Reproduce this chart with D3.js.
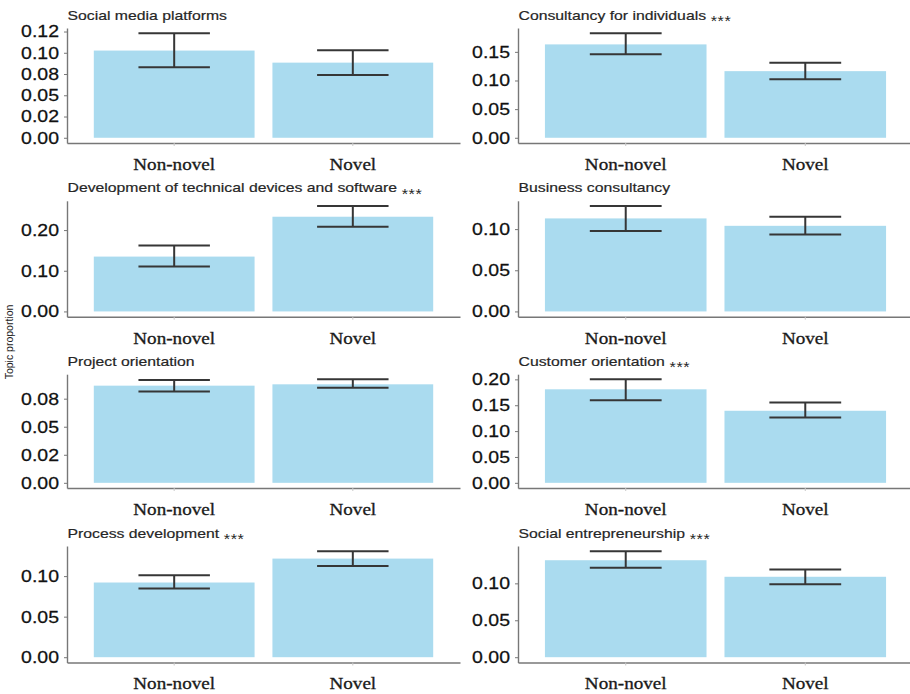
<!DOCTYPE html>
<html>
<head>
<meta charset="utf-8">
<script src="https://cdn.jsdelivr.net/npm/d3@7"></script>
<style>
  html, body { margin: 0; padding: 0; background: #fff; }
  svg { display: block; }
</style>
</head>
<body>
<svg id="chart" width="910" height="694"></svg>
<script>
// Topic proportions (mean with 95% interval) for non-novel vs novel ventures
const topics = [
  "Social media platforms",
  "Consultancy for individuals",
  "Development of technical devices and software",
  "Business consultancy",
  "Project orientation",
  "Customer orientation",
  "Process development",
  "Social entrepreneurship"
];
const significant = [false, true, true, false, false, true, true, true];
const groups = ["Non-novel", "Novel"];

const nonNovelMean  = [0.1026, 0.1630, 0.1348, 0.1130, 0.0866, 0.1808, 0.0921, 0.1313];
const nonNovelLower = [0.0830, 0.1456, 0.1103, 0.0976, 0.0813, 0.1598, 0.0848, 0.1210];
const nonNovelUpper = [0.1230, 0.1825, 0.1618, 0.1280, 0.0917, 0.2000, 0.1011, 0.1434];
const novelMean     = [0.0884, 0.1163, 0.2328, 0.1040, 0.0878, 0.1393, 0.1216, 0.1089];
const novelLower    = [0.0740, 0.1023, 0.2083, 0.0935, 0.0848, 0.1264, 0.1125, 0.0987];
const novelUpper    = [0.1030, 0.1309, 0.2590, 0.1150, 0.0922, 0.1552, 0.1306, 0.1188];

// y-axis ticks per panel and their printed labels
const tickValues = [
  [0, 0.025, 0.05, 0.075, 0.1, 0.125],
  [0, 0.05, 0.1, 0.15],
  [0, 0.1, 0.2],
  [0, 0.05, 0.1],
  [0, 0.025, 0.05, 0.075],
  [0, 0.05, 0.1, 0.15, 0.2],
  [0, 0.05, 0.1],
  [0, 0.05, 0.1]
];
const tickLabels = [
  ["0.00", "0.02", "0.05", "0.08", "0.10", "0.12"],
  ["0.00", "0.05", "0.10", "0.15"],
  ["0.00", "0.10", "0.20"],
  ["0.00", "0.05", "0.10"],
  ["0.00", "0.02", "0.05", "0.08"],
  ["0.00", "0.05", "0.10", "0.15", "0.20"],
  ["0.00", "0.05", "0.10"],
  ["0.00", "0.05", "0.10"]
];
const yTitle = "Topic proportion";

// ---- layout ----
const SX = 1.16;                        // horizontal text stretch
const colX = [67, 518];                 // left edge of each column's plot area
const colW = [393, 395];
const rowTop = [28, 200.8, 374.2, 546];
const rowBottom = [143, 316.7, 488, 662.5];

const svg = d3.select("#chart");
const barColor = "#aadbef";
const axisColor = "#777777";

topics.forEach((topic, i) => {
  const col = i % 2, row = Math.floor(i / 2);
  const x0 = colX[col], w = colW[col];
  const top = rowTop[row], bottom = rowBottom[row];

  const rows = groups.map((g, j) => ({
    group: g,
    mean: j === 0 ? nonNovelMean[i] : novelMean[i],
    lower: j === 0 ? nonNovelLower[i] : novelLower[i],
    upper: j === 0 ? nonNovelUpper[i] : novelUpper[i]
  }));

  const hi = d3.max(rows, d => d.upper);
  const pad = hi * 0.05;
  const y = d3.scaleLinear().domain([-pad, hi + pad]).range([bottom, top]);
  const x = d3.scaleBand().domain(groups).range([x0, x0 + w])
    .paddingInner(0.1).paddingOuter(0.15);

  const g = svg.append("g");

  // bars
  g.selectAll("rect.bar").data(rows).join("rect")
    .attr("class", "bar")
    .attr("x", d => x(d.group))
    .attr("width", x.bandwidth())
    .attr("y", d => y(d.mean))
    .attr("height", d => y(0) - y(d.mean))
    .attr("fill", barColor);

  // error bars
  const capW = x.step() * 0.4;
  const eb = g.selectAll("g.err").data(rows).join("g").attr("class", "err")
    .attr("stroke", "#363636").attr("stroke-width", 2).attr("fill", "none");
  eb.append("line")
    .attr("x1", d => x(d.group) + x.bandwidth() / 2)
    .attr("x2", d => x(d.group) + x.bandwidth() / 2)
    .attr("y1", d => y(d.lower)).attr("y2", d => y(d.upper));
  eb.append("line")
    .attr("x1", d => x(d.group) + x.bandwidth() / 2 - capW / 2)
    .attr("x2", d => x(d.group) + x.bandwidth() / 2 + capW / 2)
    .attr("y1", d => y(d.upper)).attr("y2", d => y(d.upper));
  eb.append("line")
    .attr("x1", d => x(d.group) + x.bandwidth() / 2 - capW / 2)
    .attr("x2", d => x(d.group) + x.bandwidth() / 2 + capW / 2)
    .attr("y1", d => y(d.lower)).attr("y2", d => y(d.lower));

  // y axis
  const yAxis = g.append("g").attr("transform", `translate(${x0},0)`)
    .call(d3.axisLeft(y).tickValues(tickValues[i])
      .tickFormat((d, k) => tickLabels[i][k]).tickSize(3).tickSizeOuter(0));
  yAxis.select(".domain").attr("stroke", axisColor).attr("stroke-width", 1.4);
  yAxis.selectAll(".tick line").attr("stroke", axisColor);
  yAxis.selectAll(".tick text")
    .attr("x", -8 / SX)
    .attr("transform", `scale(${SX},1)`)
    .attr("fill", "#111")
    .attr("stroke", "#111").attr("stroke-width", 0.25)
    .style("font-family", "'Liberation Sans', Arial, sans-serif")
    .style("font-size", "16.8px");

  // x axis
  const xAxis = g.append("g").attr("transform", `translate(0,${bottom})`)
    .call(d3.axisBottom(x).tickSize(3).tickSizeOuter(0));
  xAxis.select(".domain").attr("stroke", axisColor).attr("stroke-width", 1.4);
  xAxis.selectAll(".tick line").attr("stroke", "#c8c8c8");
  xAxis.selectAll(".tick text")
    .attr("y", 27).attr("dy", 0)
    .attr("transform", `scale(${SX},1)`)
    .attr("fill", "#1a1a1a")
    .attr("stroke", "#1a1a1a").attr("stroke-width", 0.3)
    .style("font-family", "'Liberation Serif', 'Times New Roman', serif")
    .style("font-size", "16.5px");
  g.selectAll(".tick text").attr("font-family", null).attr("font-size", null);

  // panel title
  const tg = g.append("g").attr("transform", `translate(${x0 + 0.5},${top - 8.5}) scale(${SX},1)`);
  const title = tg.append("text")
    .attr("fill", "#262626")
    .attr("stroke", "#262626").attr("stroke-width", 0.2)
    .style("font-family", "'Liberation Sans', Arial, sans-serif")
    .style("font-size", "13.6px")
    .text(topic);
  if (significant[i]) {
    const len = title.node().getComputedTextLength();
    tg.append("text")
      .attr("x", len + 4)
      .attr("dy", 6.5)
      .attr("fill", "#262626")
      .style("font-family", "'Liberation Sans', Arial, sans-serif")
      .style("font-size", "14px")
      .style("letter-spacing", "0.5px")
      .text("***");
  }
});

// shared y-axis title
svg.append("text")
  .attr("transform", "translate(12.5,342) rotate(-90)")
  .attr("text-anchor", "middle")
  .attr("fill", "#222")
  .style("font-family", "'Liberation Sans', Arial, sans-serif")
  .style("font-size", "10.5px")
  .text(yTitle);
</script>
</body>
</html>
